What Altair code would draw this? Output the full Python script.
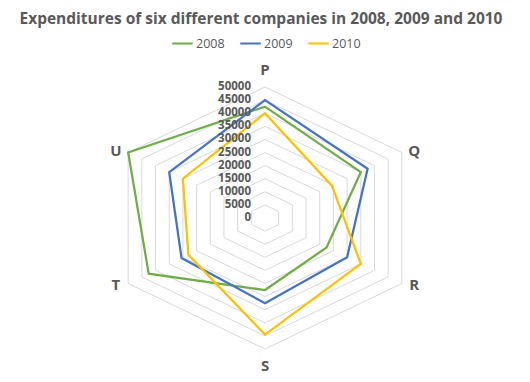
import altair as alt
import pandas as pd

TITLE = "Expenditures of six different companies in 2008, 2009 and 2010"
CATEGORIES = ["P", "Q", "R", "S", "T", "U"]
YEARS = ["2008", "2009", "2010"]
V2008 = [42500, 35000, 22500, 27500, 42500, 50000]
V2009 = [45000, 37500, 30000, 32500, 30500, 35000]
V2010 = [40000, 24500, 35000, 44500, 28000, 30000]
TICKS = [0, 5000, 10000, 15000, 20000, 25000, 30000, 35000, 40000, 45000, 50000]
COLORS = ["#70AD47", "#4472C4", "#FFC000"]
GRAY = "#595959"
FONT = "Open Sans"

rows = []
for year, vals in zip(YEARS, [V2008, V2009, V2010]):
    for i, (c, v) in enumerate(zip(CATEGORIES, vals)):
        rows.append({"cat": c, "idx": i, "year": year, "value": v})
series = pd.DataFrame(rows)

grid = pd.DataFrame([
    {"cat": c, "idx": i, "level": lv}
    for lv in TICKS[1:] for i, c in enumerate(CATEGORIES)
])
cats = pd.DataFrame({"cat": CATEGORIES, "idx": list(range(len(CATEGORIES)))})
ticks = pd.DataFrame({"tick": TICKS})

xs = alt.Scale(domain=[-50000, 50000], nice=False, zero=False)
ys = alt.Scale(domain=[-50000, 50000], nice=False, zero=False)

grid_layer = alt.Chart(grid).transform_calculate(
    x="datum.level*sin(datum.idx*PI/3)",
    y="datum.level*cos(datum.idx*PI/3)",
).mark_line(interpolate="linear-closed", strokeWidth=1, color="#d9d9d9").encode(
    x=alt.X("x:Q", scale=xs, axis=None),
    y=alt.Y("y:Q", scale=ys, axis=None),
    detail="level:O",
    order="idx:Q",
)

series_layer = alt.Chart(series).transform_calculate(
    x="datum.value*sin(datum.idx*PI/3)",
    y="datum.value*cos(datum.idx*PI/3)",
).mark_line(interpolate="linear-closed", strokeWidth=2.25).encode(
    x=alt.X("x:Q", scale=xs, axis=None),
    y=alt.Y("y:Q", scale=ys, axis=None),
    color=alt.Color(
        "year:N",
        scale=alt.Scale(domain=YEARS, range=COLORS),
        legend=alt.Legend(
            orient="none", legendX=64, legendY=-55, direction="horizontal",
            title=None, symbolType="stroke", symbolSize=420, symbolStrokeWidth=2,
            labelFont=FONT, labelFontSize=12.5, labelColor=GRAY, columnPadding=11,
            labelOffset=2,
        ),
    ),
    order="idx:Q",
)

tick_layer = alt.Chart(ticks).transform_calculate(x0="0").mark_text(
    align="right", baseline="middle", dx=-14, font=FONT, fontSize=11.5,
    fontWeight="bold", color=GRAY,
).encode(
    x=alt.X("x0:Q", scale=xs, axis=None),
    y=alt.Y("tick:Q", scale=ys, axis=None),
    text="tick:N",
)

cat_layer = alt.Chart(cats).transform_calculate(
    x="54500*sin(datum.idx*PI/3)",
    y="cos(datum.idx*PI/3)*(abs(cos(datum.idx*PI/3))>0.99 ? 56400 : 51500)",
).mark_text(
    align="center", baseline="middle", font=FONT, fontSize=15,
    fontWeight="bold", color=GRAY,
).encode(
    x=alt.X("x:Q", scale=xs, axis=None),
    y=alt.Y("y:Q", scale=ys, axis=None),
    text="cat:N",
)

title_layer = alt.Chart(pd.DataFrame({"t": [TITLE]})).mark_text(
    align="center", baseline="middle", font=FONT, fontSize=15.5,
    fontWeight="bold", color=GRAY,
).encode(x=alt.value(154), y=alt.value(-68), text="t:N")

chart = alt.layer(grid_layer, series_layer, tick_layer, cat_layer, title_layer).properties(
    width=316, height=262,
    autosize=alt.AutoSizeParams(type="none"),
    padding={"left": 99, "top": 79, "right": 99, "bottom": 25},
).configure_view(stroke=None)

chart.save("out.html", embed_options={"renderer": "svg", "actions": False})
